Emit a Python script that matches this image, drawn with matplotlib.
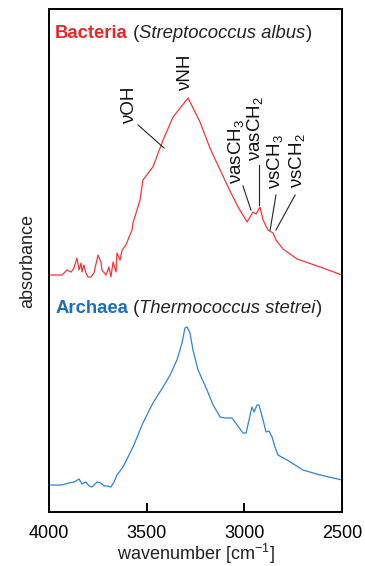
import matplotlib
matplotlib.use("Agg")
import matplotlib.pyplot as plt

plt.rcParams['font.family'] = ['Liberation Sans', 'DejaVu Sans']
plt.rcParams['mathtext.fontset'] = 'custom'
plt.rcParams['mathtext.rm'] = 'Liberation Sans'
plt.rcParams['mathtext.it'] = 'Liberation Sans:italic'
plt.rcParams['mathtext.default'] = 'regular'

# Bacteria spectrum (relative absorbance above its own baseline)
bact_wn = [4000, 3933, 3908, 3887, 3872, 3857, 3846, 3836, 3831, 3821, 3811, 3800,
           3785, 3770, 3749, 3734, 3729, 3708, 3693, 3683, 3672, 3657, 3652, 3636,
           3626, 3606, 3590, 3575, 3570, 3534, 3519, 3468, 3416, 3365, 3288, 3227,
           3176, 3124, 3073, 3032, 2986, 2956, 2940, 2920, 2904, 2879, 2853, 2838,
           2802, 2730, 2612, 2500]
bact_abs = [0.00, 0.00, 0.05, 0.03, 0.07, 0.17, 0.05, 0.12, 0.03, 0.10, 0.02, -0.02,
            -0.02, 0.02, 0.20, 0.13, 0.05, 0.00, 0.08, -0.02, 0.13, 0.03, 0.22, 0.15,
            0.25, 0.30, 0.38, 0.45, 0.52, 0.75, 0.95, 1.08, 1.35, 1.58, 1.77, 1.53,
            1.27, 1.05, 0.84, 0.68, 0.53, 0.63, 0.61, 0.68, 0.55, 0.45, 0.42, 0.35,
            0.26, 0.16, 0.08, 0.00]

# Archaea spectrum
arch_wn = [4000, 3933, 3898, 3872, 3846, 3831, 3811, 3795, 3780, 3754, 3734, 3718,
           3703, 3683, 3667, 3652, 3621, 3570, 3519, 3468, 3416, 3380, 3345, 3319,
           3304, 3293, 3278, 3263, 3237, 3191, 3160, 3124, 3099, 3063, 3037, 3007,
           2991, 2976, 2961, 2950, 2935, 2925, 2904, 2889, 2874, 2858, 2843, 2828,
           2781, 2700, 2612, 2500]
arch_abs = [0.00, 0.00, 0.02, 0.03, 0.06, 0.01, 0.03, -0.01, -0.02, 0.03, 0.02, -0.01,
            -0.01, -0.02, 0.03, 0.10, 0.18, 0.38, 0.62, 0.82, 0.98, 1.10, 1.25, 1.42,
            1.57, 1.58, 1.52, 1.35, 1.15, 0.95, 0.80, 0.68, 0.67, 0.67, 0.60, 0.52,
            0.52, 0.65, 0.78, 0.73, 0.80, 0.80, 0.65, 0.53, 0.54, 0.48, 0.38, 0.30,
            0.25, 0.15, 0.10, 0.05]

bact_offset = 2.37
arch_offset = 0.27

# band labels: text position (wavenumber, bottom) and leader line ends
band_labels = ['\u03bdOH', '\u03bdNH', '\u03bdasCH$_3$', '\u03bdasCH$_2$',
               '\u03bdsCH$_3$', '\u03bdsCH$_2$']
label_wn = [3590, 3299, 3043, 2945, 2843, 2730]
label_y = [3.88, 4.21, 3.28, 3.51, 3.23, 3.24]
leader_from = [(3544, 3.87), None, (3007, 3.26), (2925, 3.47), (2838, 3.17), (2740, 3.17)]
leader_to = [(3411, 3.64), None, (2966, 3.02), (2925, 3.07), (2868, 2.82), (2838, 2.82)]

red_line = '#f2353a'
red_text = '#ec2528'
blue_line = '#2f84cf'
blue_text = '#1b6dbd'

fig = plt.figure(figsize=(3.65, 5.66), dpi=100)
ax = fig.add_axes([49 / 365, 1 - 512 / 566, 293 / 365, 503 / 566])

ax.plot(bact_wn, [v + bact_offset for v in bact_abs], color=red_line, lw=0.9)
ax.plot(arch_wn, [v + arch_offset for v in arch_abs], color=blue_line, lw=0.9)

ax.set_xlim(4000, 2500)
ax.set_ylim(0, 5.03)
ax.set_xticks([4000, 3500, 3000, 2500])
ax.set_yticks([])
ax.tick_params(axis='x', direction='in', length=6.5, width=1.4, labelsize=13, pad=9)
for s in ax.spines.values():
    s.set_linewidth(1.4)
ax.set_xlabel('wavenumber [cm$^{-1}$]', fontsize=13, labelpad=0, color='#222222')
ax.set_ylabel('absorbance', fontsize=13, labelpad=9, color='#222222')

# titles with mixed styles
fs_title = 13.3
t1 = ax.text(3969, 4.745, 'Bacteria', color=red_text, fontsize=fs_title,
             fontweight='bold', va='baseline')
t2 = ax.annotate(' (', xycoords=t1, xy=(1, 0), va='bottom', fontsize=fs_title, color='#222222')
t3 = ax.annotate('Streptococcus albus', xycoords=t2, xy=(1, 0), va='bottom',
                 fontsize=fs_title, style='italic', color='#222222')
ax.annotate(')', xycoords=t3, xy=(1, 0), va='bottom', fontsize=fs_title, color='#222222')

a1 = ax.text(3969, 1.99, 'Archaea', color=blue_text, fontsize=fs_title,
             fontweight='bold', va='baseline')
a2 = ax.annotate(' (', xycoords=a1, xy=(1, 0), va='bottom', fontsize=fs_title, color='#222222')
a3 = ax.annotate('Thermococcus stetrei', xycoords=a2, xy=(1, 0), va='bottom',
                 fontsize=fs_title, style='italic', color='#222222')
ax.annotate(')', xycoords=a3, xy=(1, 0), va='bottom', fontsize=fs_title, color='#222222')

for lab, wx, wy, p0, p1 in zip(band_labels, label_wn, label_y, leader_from, leader_to):
    ax.text(wx, wy, lab, rotation=90, ha='center', va='bottom', fontsize=13.5,
            color='#111111')
    if p0 is not None:
        ax.plot([p0[0], p1[0]], [p0[1], p1[1]], color='#222222', lw=0.8)

fig.savefig('out.png', dpi=100)
